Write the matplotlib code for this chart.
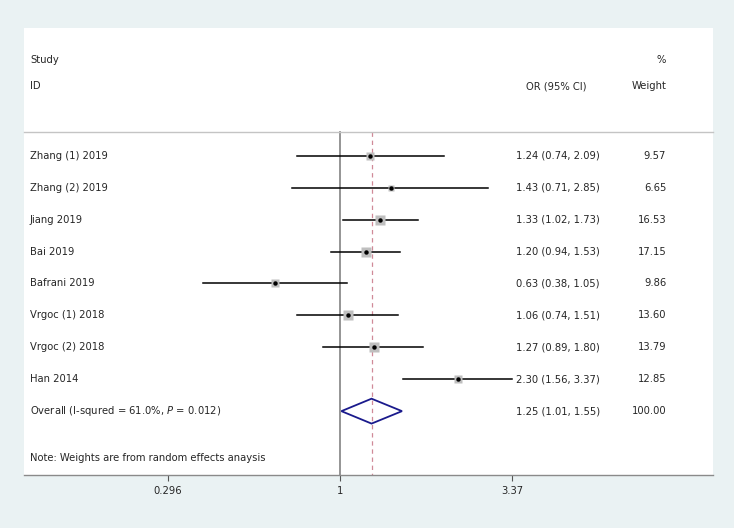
import matplotlib.pyplot as plt
import matplotlib.transforms as mtransforms
import numpy as np

# Datos del forest plot
estudios = ['Zhang (1) 2019', 'Zhang (2) 2019', 'Jiang 2019', 'Bai 2019', 'Bafrani 2019',
            'Vrgoc (1) 2018', 'Vrgoc (2) 2018', 'Han 2014']
OR = [1.24, 1.43, 1.33, 1.20, 0.63, 1.06, 1.27, 2.30]
ci_bajo = [0.74, 0.71, 1.02, 0.94, 0.38, 0.74, 0.89, 1.56]
ci_alto = [2.09, 2.85, 1.73, 1.53, 1.05, 1.51, 1.80, 3.37]
peso = [9.57, 6.65, 16.53, 17.15, 9.86, 13.60, 13.79, 12.85]

overall_label = 'Overall (I-squred = 61.0%, $P$ = 0.012)'
overall_or, overall_lo, overall_hi, overall_peso = 1.25, 1.01, 1.55, 100.00
nota = 'Note: Weights are from random effects anaysis'

ticks = [0.296, 1, 3.37]
tick_labels = ['0.296', '1', '3.37']

fondo = '#eaf2f3'
texto = '#262626'
fs = 7.2

fig = plt.figure(figsize=(7.34, 5.28), dpi=100, facecolor=fondo)
ax = fig.add_axes([24/734, 1 - 475/528, 689/734, 447/528])
ax.set_facecolor('white')
ax.set_xscale('log')
ax.set_xlim(0.1072, 13.96)
ax.set_ylim(10, -4)

for s in ['top', 'left', 'right']:
    ax.spines[s].set_visible(False)
ax.spines['bottom'].set_color('#8a8a8a')
ax.spines['bottom'].set_linewidth(1.0)
ax.set_yticks([])
ax.set_xticks(ticks)
ax.set_xticklabels(tick_labels)
ax.xaxis.set_minor_locator(plt.NullLocator())
ax.tick_params(axis='x', direction='out', length=4, width=0.8, color='#555555',
               labelsize=fs, labelcolor=texto, pad=4)

y_cab = -0.74
trans = mtransforms.blended_transform_factory(ax.transAxes, ax.transData)

# Línea bajo la cabecera
ax.plot([0, 1], [y_cab, y_cab], transform=trans, color='#c4c4c4', lw=1.0, clip_on=False)

# Línea de no efecto y línea del efecto global
ax.plot([1, 1], [y_cab, 10], color='#8c8c8c', lw=1.3, zorder=1)
ax.plot([overall_or, overall_or], [y_cab, 10], color='#d08a98', lw=0.9,
        dashes=(3.5, 3), zorder=1)

# Estudios individuales
filas = np.arange(len(estudios))
for i in filas:
    ax.plot([ci_bajo[i], ci_alto[i]], [i, i], color='black', lw=1.1, zorder=2)
    ax.plot(OR[i], i, marker='s', ms=1.8*np.sqrt(peso[i]), color='#bfbfbf',
            mec='none', zorder=3)
    ax.plot(OR[i], i, marker='o', ms=3.2, color='black', mec='none', zorder=4)

# Diamante global
fila_ov = len(estudios)
h = 0.39
ax.fill([overall_lo, overall_or, overall_hi, overall_or, overall_lo],
        [fila_ov, fila_ov - h, fila_ov, fila_ov + h, fila_ov],
        facecolor='none', edgecolor='#1a1a8c', lw=1.3, zorder=5)

# Columnas de texto
x_est, x_or, x_or_c, x_peso = 0.0087, 0.714, 0.772, 0.932
ax.text(x_est, -3, 'Study', transform=trans, fontsize=fs, color=texto, va='center')
ax.text(x_est, -2.18, 'ID', transform=trans, fontsize=fs, color=texto, va='center')
ax.text(x_or_c, -2.18, 'OR (95% CI)', transform=trans, fontsize=fs, color=texto,
        va='center', ha='center')
ax.text(x_peso, -3, '%', transform=trans, fontsize=fs, color=texto, va='center', ha='right')
ax.text(x_peso, -2.18, 'Weight', transform=trans, fontsize=fs, color=texto,
        va='center', ha='right')

for i in filas:
    ax.text(x_est, i, estudios[i], transform=trans, fontsize=fs, color=texto, va='center')
    ax.text(x_or, i, '%.2f (%.2f, %.2f)' % (OR[i], ci_bajo[i], ci_alto[i]),
            transform=trans, fontsize=fs, color=texto, va='center')
    ax.text(x_peso, i, '%.2f' % peso[i], transform=trans, fontsize=fs, color=texto,
            va='center', ha='right')

ax.text(x_est, fila_ov, overall_label, transform=trans, fontsize=fs, color=texto, va='center')
ax.text(x_or, fila_ov, '%.2f (%.2f, %.2f)' % (overall_or, overall_lo, overall_hi),
        transform=trans, fontsize=fs, color=texto, va='center')
ax.text(x_peso, fila_ov, '%.2f' % overall_peso, transform=trans, fontsize=fs, color=texto,
        va='center', ha='right')
ax.text(x_est, 9.47, nota, transform=trans, fontsize=fs, color=texto, va='center')

fig.savefig('out.png', dpi=100, facecolor=fondo)
